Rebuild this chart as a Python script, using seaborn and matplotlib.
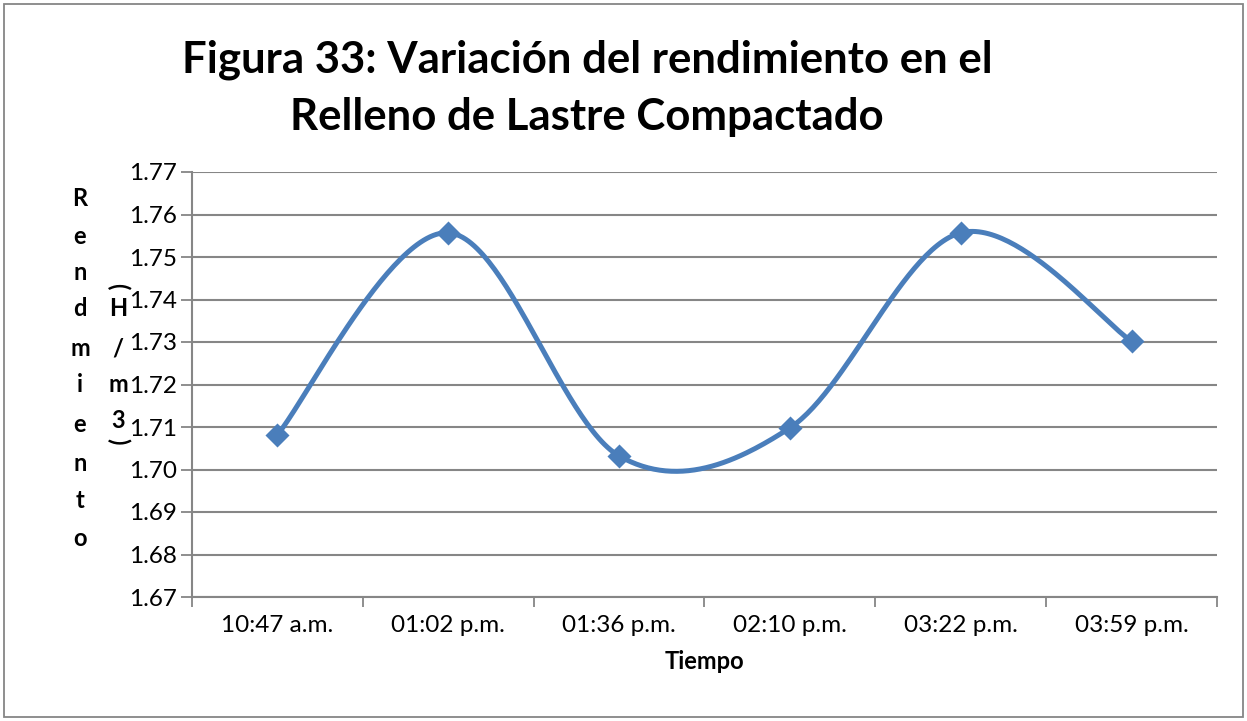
import numpy as np
import pandas as pd
import matplotlib
matplotlib.use("Agg")
import matplotlib.pyplot as plt
import seaborn as sns
from matplotlib.patches import Rectangle

# ---- data ----
tiempos = ["10:47 a.m.", "01:02 p.m.", "01:36 p.m.", "02:10 p.m.", "03:22 p.m.", "03:59 p.m."]
rendimiento = [1.7082, 1.7557, 1.7032, 1.7098, 1.7557, 1.7302]
y_ticks = [1.67, 1.68, 1.69, 1.70, 1.71, 1.72, 1.73, 1.74, 1.75, 1.76, 1.77]

COLOR = "#4A7EBB"
GRID = "#868686"

sns.set_theme(style="white")
plt.rcParams["font.family"] = ["Lato", "DejaVu Sans"]
plt.rcParams["text.color"] = "black"

# Excel-like smoothed line (Catmull-Rom Bezier)
def smooth(xs, ys, n=60):
    P = np.column_stack([xs, ys]).astype(float)
    out = []
    for i in range(len(P) - 1):
        p0 = P[i - 1] if i > 0 else P[i]
        p1, p2 = P[i], P[i + 1]
        p3 = P[i + 2] if i + 2 < len(P) else P[i + 1]
        c1 = p1 + (p2 - p0) / 6.0
        c2 = p2 - (p3 - p1) / 6.0
        t = np.linspace(0, 1, n)[:, None]
        seg = ((1 - t) ** 3) * p1 + 3 * ((1 - t) ** 2) * t * c1 + 3 * (1 - t) * t ** 2 * c2 + t ** 3 * p2
        out.append(seg if i == 0 else seg[1:])
    return np.vstack(out)

xpos = np.arange(len(tiempos))
curve = smooth(xpos, rendimiento)
df_curve = pd.DataFrame({"x": curve[:, 0], "y": curve[:, 1]})
df_pts = pd.DataFrame({"x": xpos, "y": rendimiento})

fig = plt.figure(figsize=(12.47, 7.21), dpi=100)
ax = fig.add_axes([192 / 1247, 1 - 597 / 721, (1217 - 192) / 1247, (597 - 172) / 721])

sns.lineplot(data=df_curve, x="x", y="y", ax=ax, color=COLOR, linewidth=3.6, sort=False,
             estimator=None, zorder=3)
sns.scatterplot(data=df_pts, x="x", y="y", ax=ax, color=COLOR, marker="D", s=150,
                edgecolor=COLOR, linewidth=0, zorder=4)

ax.set_xlim(-0.5, len(tiempos) - 0.5)
ax.set_ylim(1.67, 1.77)
ax.set_yticks(y_ticks)
ax.set_yticklabels([f"{v:.2f}" for v in y_ticks], fontsize=17.5, color="black")
ax.set_xticks(xpos)
ax.set_xticklabels(tiempos, fontsize=17.5, color="black")
ax.set_xticks(np.arange(-0.5, len(tiempos), 1.0), minor=True)
ax.tick_params(axis="x", which="major", length=0, pad=13)
ax.tick_params(axis="x", which="minor", length=7, width=1.3, color=GRID, bottom=True)
ax.tick_params(axis="y", which="major", length=8, width=1.3, color=GRID, left=True, pad=3)

ax.grid(axis="y", color=GRID, linewidth=1.5)
ax.grid(axis="x", visible=False)
ax.set_axisbelow(True)
for s in ["top", "right"]:
    ax.spines[s].set_visible(False)
for s in ["left", "bottom"]:
    ax.spines[s].set_color(GRID)
    ax.spines[s].set_linewidth(1.5)

ax.set_xlabel("Tiempo", fontsize=17, fontweight="bold", labelpad=10, color="black")
ax.set_ylabel("")

# title
fig.text(587 / 1247, 1 - 73 / 721, "Figura 33: Variación del rendimiento en el",
         ha="center", va="baseline", fontsize=31.5, fontweight="bold")
fig.text(587 / 1247, 1 - 130 / 721, "Relleno de Lastre Compactado",
         ha="center", va="baseline", fontsize=31.5, fontweight="bold")

# stacked y label
ys_px = [198, 236, 272, 308, 349, 385, 425, 463, 501, 538]
letters = ["R", "e", "n", "d", "m", "i", "e", "n", "t", "o"]
for ch, yp in zip(letters, ys_px):
    fig.text(80 / 1247, 1 - yp / 721, ch, ha="center", va="center", fontsize=17, fontweight="bold")

units = [("(", 286, -90), ("H", 308, 0), ("/", 349, 0), ("m", 385, 0), ("3", 420, 0), (")", 441, -90)]
for ch, yp, rot in units:
    fig.text(118 / 1247, 1 - yp / 721, ch, ha="center", va="center", fontsize=17,
             fontweight="bold", rotation=rot)

# chart border
fig.patches.append(Rectangle((4 / 1247, 4 / 721), 1239 / 1247, 713 / 721, transform=fig.transFigure,
                             fill=False, edgecolor="#868686", linewidth=1.3))

fig.savefig("out.png", dpi=100)
